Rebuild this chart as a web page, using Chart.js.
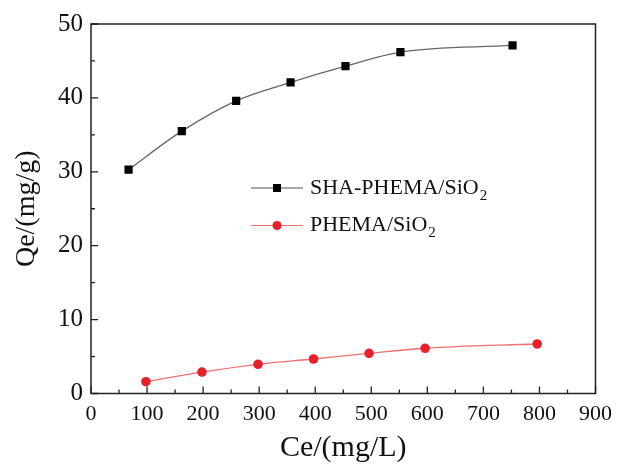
<!DOCTYPE html>
<html lang="en">
<head>
  <meta charset="UTF-8">
  <title>Qe vs Ce</title>
  <script src="https://cdn.jsdelivr.net/npm/chart.js"></script>
  <style>
    body { margin: 0; padding: 0; background: #fff; }
    .wrap { width: 620px; height: 469px; }
  </style>
</head>
<body>
  <div class="wrap">
    <canvas id="qeChart" width="620" height="469"></canvas>
  </div>

  <script>
    // values
    const shaCe = [67, 162, 259, 356, 454, 552, 752];
    const shaQe = [30.3, 35.5, 39.6, 42.1, 44.3, 46.2, 47.1];
    const phemaCe = [98, 198, 298, 397, 496, 596, 796];
    const phemaQe = [1.6, 2.9, 3.95, 4.67, 5.44, 6.12, 6.7];
    const seriesNames = ['SHA-PHEMA/SiO', 'PHEMA/SiO'];

    const FONT = '"Liberation Serif", "Times New Roman", serif';

    function toPoints(xs, ys) {
      return xs.map((x, i) => ({ x: x, y: ys[i] }));
    }

    // inward ticks, frame and legend with subscript
    const framePlugin = {
      id: 'frame',
      afterDraw(chart) {
        const ctx = chart.ctx;
        const a = chart.chartArea;
        const xs = chart.scales.x;
        const ys = chart.scales.y;
        ctx.save();
        ctx.strokeStyle = '#222';
        ctx.lineWidth = 1.5;
        ctx.strokeRect(a.left, a.top, a.right - a.left, a.bottom - a.top);

        ctx.lineWidth = 1.3;
        ctx.beginPath();
        for (let v = 0; v <= 900; v += 50) {
          const px = xs.getPixelForValue(v);
          const len = v % 100 === 0 ? 7 : 4;
          ctx.moveTo(px, a.bottom);
          ctx.lineTo(px, a.bottom - len);
        }
        for (let v = 0; v <= 50; v += 5) {
          const py = ys.getPixelForValue(v);
          const len = v % 10 === 0 ? 7 : 4;
          ctx.moveTo(a.left, py);
          ctx.lineTo(a.left + len, py);
        }
        ctx.stroke();

        // legend
        const rows = [
          { y: 188, line: '#555', fill: '#000', shape: 'rect' },
          { y: 225.5, line: '#f07070', fill: '#e8202a', shape: 'circle' }
        ];
        rows.forEach((r, i) => {
          ctx.strokeStyle = r.line;
          ctx.lineWidth = 1.2;
          ctx.beginPath();
          ctx.moveTo(251, r.y);
          ctx.lineTo(303, r.y);
          ctx.stroke();
          ctx.fillStyle = r.fill;
          if (r.shape === 'rect') {
            ctx.fillRect(273, r.y - 4, 8, 8);
          } else {
            ctx.beginPath();
            ctx.arc(277, r.y, 4.5, 0, Math.PI * 2);
            ctx.fill();
          }
          ctx.fillStyle = '#111';
          ctx.font = '22px ' + FONT;
          ctx.textBaseline = 'middle';
          ctx.textAlign = 'left';
          ctx.fillText(seriesNames[i], 310, r.y);
          const w = ctx.measureText(seriesNames[i]).width;
          ctx.font = '15px ' + FONT;
          ctx.fillText('2', 310 + w + 1, r.y + 8);
        });
        ctx.restore();
      }
    };

    function createChart() {
      const ctx = document.getElementById('qeChart').getContext('2d');
      new Chart(ctx, {
        type: 'scatter',
        data: {
          datasets: [{
            label: 'SHA-PHEMA/SiO2',
            data: toPoints(shaCe, shaQe),
            showLine: true,
            borderColor: '#666',
            borderWidth: 1.3,
            backgroundColor: '#000',
            pointStyle: 'rect',
            pointRadius: 5.8,
            pointBorderWidth: 0,
            cubicInterpolationMode: 'monotone'
          }, {
            label: 'PHEMA/SiO2',
            data: toPoints(phemaCe, phemaQe),
            showLine: true,
            borderColor: '#f07070',
            borderWidth: 1.3,
            backgroundColor: '#e8202a',
            pointStyle: 'circle',
            pointRadius: 4.8,
            pointBorderWidth: 0,
            cubicInterpolationMode: 'monotone'
          }]
        },
        options: {
          responsive: false,
          animation: false,
          layout: { padding: { top: 24, right: 21, left: 0, bottom: 0 } },
          plugins: {
            legend: { display: false },
            tooltip: { enabled: false }
          },
          scales: {
            x: {
              type: 'linear',
              min: 0,
              max: 900,
              ticks: {
                stepSize: 100,
                color: '#111',
                padding: 8,
                font: { family: FONT, size: 22 }
              },
              grid: { display: false, drawTicks: false },
              border: { display: false },
              title: {
                display: true,
                text: 'Ce/(mg/L)',
                color: '#111',
                padding: { top: 4, bottom: 3 },
                font: { family: FONT, size: 30 }
              },
              afterFit(scale) { scale.height = 75.5; }
            },
            y: {
              min: 0,
              max: 50,
              ticks: {
                stepSize: 10,
                color: '#111',
                padding: 8,
                font: { family: FONT, size: 25 }
              },
              grid: { display: false, drawTicks: false },
              border: { display: false },
              title: {
                display: true,
                text: 'Qe/(mg/g)',
                color: '#111',
                padding: { top: 10, bottom: 0 },
                font: { family: FONT, size: 28 }
              },
              afterFit(scale) { scale.width = 91; }
            }
          }
        },
        plugins: [framePlugin]
      });
    }

    document.addEventListener('DOMContentLoaded', function () {
      createChart();
    });
  </script>
</body>
</html>
